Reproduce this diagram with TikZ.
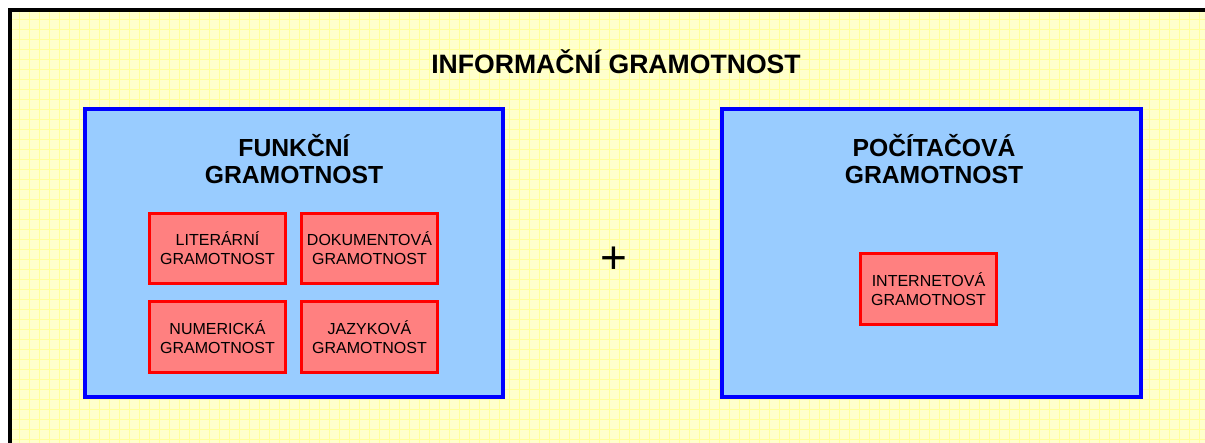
\documentclass[tikz,border=0pt]{standalone}
\usepackage{fontspec}
\setmainfont{Liberation Sans}
\definecolor{paper}{RGB}{255,255,204}
\definecolor{gridc}{RGB}{255,255,155}
\definecolor{bluefill}{RGB}{153,204,255}
\definecolor{blueline}{RGB}{0,0,255}
\definecolor{redfill}{RGB}{255,128,128}
\definecolor{redline}{RGB}{255,0,0}
\tikzset{
  gridline/.style={draw=gridc, line width=0.9pt},
  frame/.style={draw=black, line width=4pt},
  bigbox/.style={rectangle, draw=blueline, fill=bluefill, line width=4pt, inner sep=0pt},
  smallbox/.style={rectangle, draw=redline, fill=redfill, line width=3pt, inner sep=0pt,
    minimum width=136pt, minimum height=70.5pt, align=center,
    font=\fontsize{16}{19}\selectfont},
  titletext/.style={anchor=base, inner sep=0pt, font=\fontsize{26.6}{30}\selectfont\bfseries},
  headtext/.style={anchor=base, inner sep=0pt, align=center, font=\fontsize{24.7}{26.7}\selectfont\bfseries},
  plustext/.style={inner sep=0pt, font=\fontsize{46}{46}\selectfont}
}
\begin{document}
\begin{tikzpicture}[x=1pt,y=-1pt]
\useasboundingbox (0,0) rectangle (1205,442);
\clip (0,0) rectangle (1205,442);
\fill[white] (0,0) rectangle (1205,442);
\fill[paper] (10,10) rectangle (1220,460);
\begin{scope}
\clip (12,12) rectangle (1220,460);
\foreach \gx in {19,29,...,1209} {\draw[gridline] (\gx,12) -- (\gx,460);}
\foreach \gy in {19,29,...,449} {\draw[gridline] (12,\gy) -- (1220,\gy);}
\end{scope}
\draw[frame] (10,460) -- (10,10) -- (1220,10);
% title
\node[titletext] (title) at (616,73.3) {INFORMAČNÍ GRAMOTNOST};
% big boxes
\node[bigbox, minimum width=418pt, minimum height=288pt] (funk) at (294,253) {};
\node[bigbox, minimum width=419pt, minimum height=288pt] (poc) at (931.5,253) {};
\node[headtext] (funkt) at (294,183.3) {FUNKČNÍ\\GRAMOTNOST};
\node[headtext] (poct) at (934,183.3) {POČÍTAČOVÁ\\GRAMOTNOST};
% small boxes
\node[smallbox] (lit) at (217.5,248.5) {LITERÁRNÍ\\GRAMOTNOST};
\node[smallbox] (dok) at (369.5,248.5) {DOKUMENTOVÁ\\GRAMOTNOST};
\node[smallbox] (num) at (217.5,337) {NUMERICKÁ\\GRAMOTNOST};
\node[smallbox] (jaz) at (369.5,337) {JAZYKOVÁ\\GRAMOTNOST};
\node[smallbox] (int) at (928.5,289) {INTERNETOVÁ\\GRAMOTNOST};
% plus
\node[plustext] (plus) at (614.3,260.5) {+};
\end{tikzpicture}
\end{document}
